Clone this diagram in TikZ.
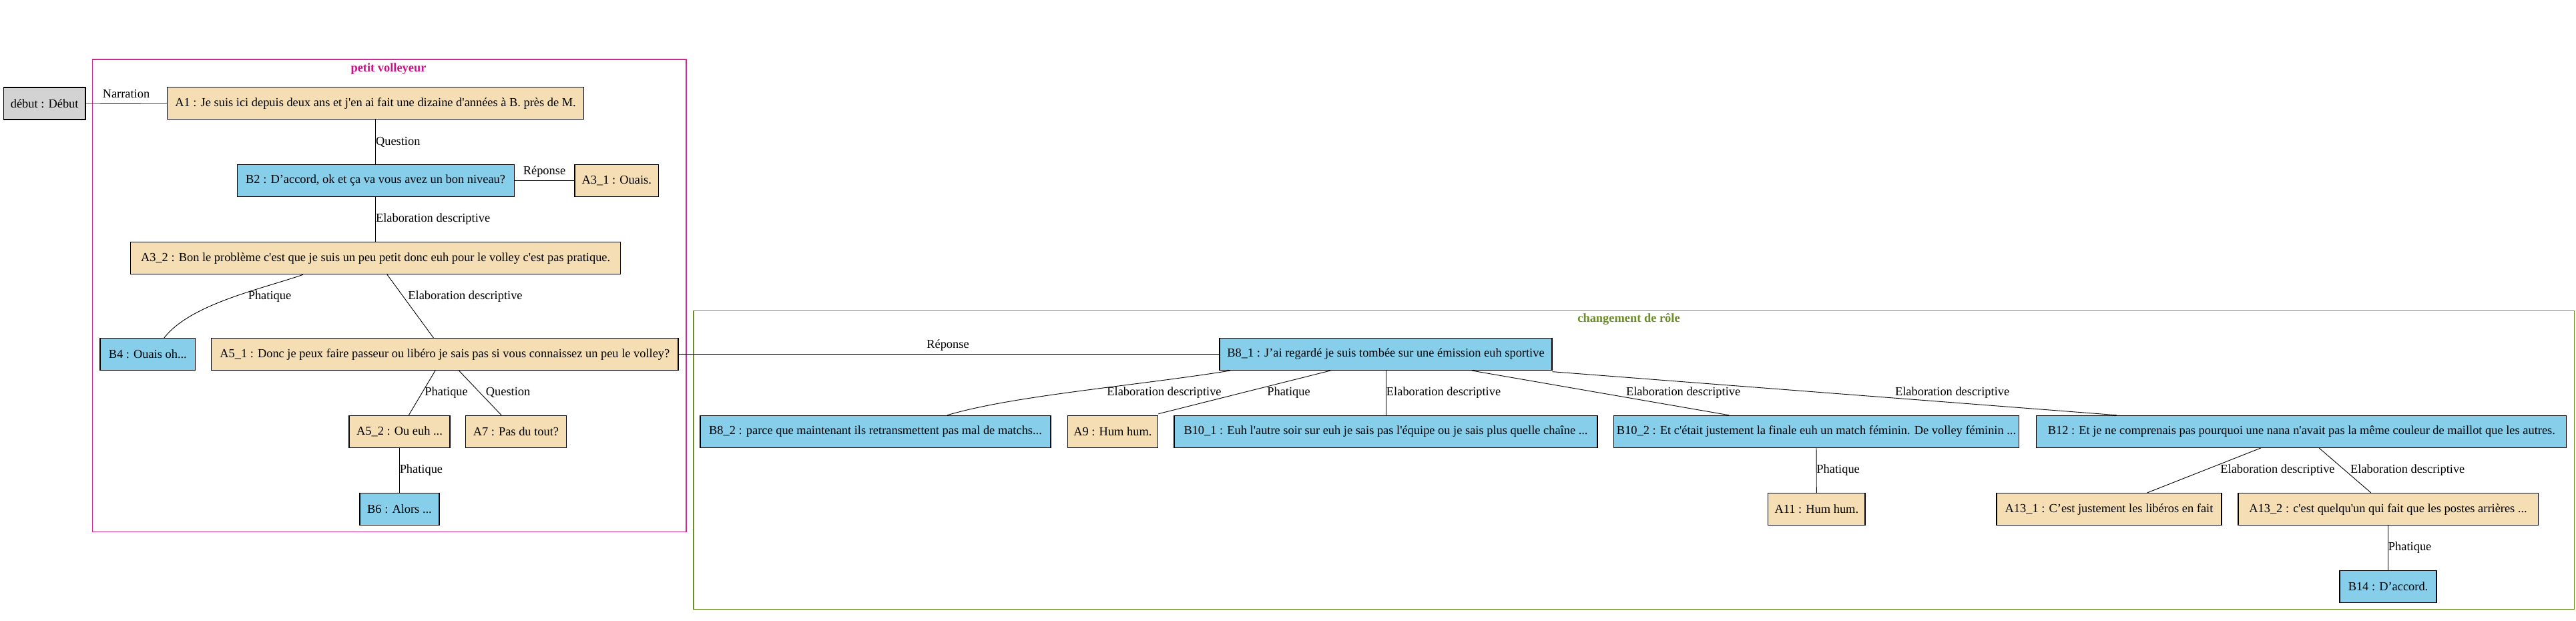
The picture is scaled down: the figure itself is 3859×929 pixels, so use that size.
\documentclass[tikz,border=0pt]{standalone}
\usepackage{fontspec}
\setmainfont{Liberation Serif}
\definecolor{wheatc}{HTML}{F5DEB3}
\definecolor{skyc}{HTML}{87CEEB}
\definecolor{grayc}{HTML}{D3D3D3}
\definecolor{pinkc}{HTML}{C71585}
\definecolor{pinkb}{HTML}{CC2B92}
\definecolor{greenc}{HTML}{6B8E23}
\newcommand{\sq}{\textquotesingle}
\begin{document}
\begin{tikzpicture}[x=1pt,y=-1pt,
  box/.style={draw=black, line width=1.1pt, minimum height=48pt, inner sep=0pt, font=\fontsize{18.4}{21}\selectfont},
  tanbox/.style={box, fill=wheatc},
  bluebox/.style={box, fill=skyc},
  graybox/.style={box, fill=grayc},
  edge/.style={line width=0.9pt},
  lbl/.style={font=\fontsize{18.4}{21}\selectfont, inner sep=0pt},
  lblw/.style={lbl, anchor=west},
  cluster/.style={line width=1.2pt},
  ctitle/.style={font=\bfseries\fontsize{18.4}{21}\selectfont, inner sep=0pt}]
\useasboundingbox (0,0) rectangle (3859,929);
% clusters
\draw[cluster, draw=pinkb] (138.5,89) rectangle (1028,796.7);
\node[ctitle, text=pinkc] (t1) at (582,102.7) {petit volleyeur};
\draw[cluster, draw=greenc] (1039,465.5) rectangle (3856.6,912.7);
\node[ctitle, text=greenc] (t2) at (2440,478.3) {changement de rôle};
% nodes
\node[graybox, minimum width=122.6pt] (debut) at (66.7,155) {début : Début};
\node[tanbox, minimum width=624pt] (A1) at (562.6,154.7) {A1 : Je suis ici depuis deux ans et j\sq en ai fait une dizaine d\sq années à B. près de M.};
\node[bluebox, minimum width=415pt] (B2) at (562.6,270.3) {B2 : D’accord, ok et ça va vous avez un bon niveau?};
\node[tanbox, minimum width=125.6pt] (A31) at (923.8,270.3) {A3\_1 : Ouais.};
\node[tanbox, minimum width=734pt] (A32) at (562.6,386.7) {A3\_2 : Bon le problème c\sq est que je suis un peu petit donc euh pour le volley c\sq est pas pratique.};
\node[bluebox, minimum width=142.6pt] (B4) at (221.3,530.5) {B4 : Ouais oh...};
\node[tanbox, minimum width=699.4pt] (A51) at (666.3,530.5) {A5\_1 : Donc je peux faire passeur ou libéro je sais pas si vous connaissez un peu le volley?};
\node[tanbox, minimum width=151pt] (A52) at (598.5,646.2) {A5\_2 : Ou euh ...};
\node[tanbox, minimum width=150.8pt] (A7) at (772.9,646.2) {A7 : Pas du tout?};
\node[bluebox, minimum width=119pt] (B6) at (598.5,762.7) {B6 : Alors ...};
\node[bluebox, minimum width=498pt] (B81) at (2076,530.5) {B8\_1 : J’ai regardé je suis tombée sur une émission euh sportive};
\node[bluebox, minimum width=525pt] (B82) at (1311.5,646.3) {B8\_2 : parce que maintenant ils retransmettent pas mal de matchs...};
\node[tanbox, minimum width=135.7pt] (A9) at (1666.9,646.3) {A9 : Hum hum.};
\node[bluebox, minimum width=634pt] (B101) at (2076,646.3) {B10\_1 : Euh l\sq autre soir sur euh je sais pas l\sq équipe ou je sais plus quelle chaîne ...};
\node[bluebox, minimum width=606.6pt] (B102) at (2721,646.3) {B10\_2 : Et c\sq était justement la finale euh un match féminin. De volley féminin ...};
\node[bluebox, minimum width=794pt] (B12) at (3447.8,646.3) {B12 : Et je ne comprenais pas pourquoi une nana n\sq avait pas la même couleur de maillot que les autres.};
\node[tanbox, minimum width=145.4pt] (A11) at (2721.3,762.5) {A11 : Hum hum.};
\node[tanbox, minimum width=337pt] (A131) at (3159.5,762.5) {A13\_1 : C’est justement les libéros en fait};
\node[tanbox, minimum width=449pt] (A132) at (3577.5,762.5) {A13\_2 : c\sq est quelqu\sq un qui fait que les postes arrières ...};
\node[bluebox, minimum width=145pt] (B14) at (3577.5,878.3) {B14 : D’accord.};
% edges
\draw[edge] (debut.east) -- (A1.west) node[lbl] at (189,140) {Narration};
\draw[edge] (A1.south) -- (B2.north) node[lblw] at (562.6,212.7) {Question};
\draw[edge] (B2.east) -- (A31.west) node[lbl] at (815.5,256.7) {Réponse};
\draw[edge] (B2.south) -- (A32.north) node[lblw] at (562.6,328) {Elaboration descriptive};
\draw[edge] ([xshift=-108.6pt]A32.south) .. controls (395,432) and (285,455) .. ([xshift=24.7pt]B4.north) node[lbl] at (404,444) {Phatique};
\draw[edge] ([xshift=17.4pt]A32.south) -- ([xshift=-16.9pt]A51.north) node[lblw] at (611,444) {Elaboration descriptive};
\draw[edge] (A51.east) -- (B81.west) node[lbl] at (1420,516.7) {Réponse};
\draw[edge] ([xshift=-14.3pt]A51.south) -- ([xshift=13.9pt]A52.north) node[lblw] at (636,588) {Phatique};
\draw[edge] ([xshift=21.2pt]A51.south) -- ([xshift=-21.9pt]A7.north) node[lblw] at (727.4,588) {Question};
\draw[edge] (A52.south) -- (B6.north) node[lblw] at (598.3,704) {Phatique};
\draw[edge] ([xshift=-233pt]B81.south) .. controls (1700,578) and (1520,592) .. ([xshift=107.5pt]B82.north) node[lbl] at (1744,588.3) {Elaboration descriptive};
\draw[edge] ([xshift=-83pt]B81.south) -- ([yshift=2pt]A9.north east) node[lbl] at (1930.5,588) {Phatique};
\draw[edge] (B81.south) -- (B101.north) node[lblw] at (2076.5,587.7) {Elaboration descriptive};
\draw[edge] ([xshift=129pt]B81.south) -- ([xshift=-131pt]B102.north) node[lblw] at (2435.6,588) {Elaboration descriptive};
\draw[edge] ([yshift=-1.6pt]B81.south east) -- ([xshift=-276.8pt]B12.north) node[lblw] at (2838.6,588) {Elaboration descriptive};
\draw[edge] (B102.south) -- (A11.north) node[lblw] at (2721,704.3) {Phatique};
\draw[edge] ([xshift=-60.8pt]B12.south) -- ([xshift=57.1pt]A131.north) node[lbl] at (3412,704.3) {Elaboration descriptive};
\draw[edge] ([xshift=26.2pt]B12.south) -- ([xshift=-25.7pt]A132.north) node[lblw] at (3520.7,704) {Elaboration descriptive};
\draw[edge] (A132.south) -- (B14.north) node[lblw] at (3577.5,820) {Phatique};
\end{tikzpicture}
\end{document}
